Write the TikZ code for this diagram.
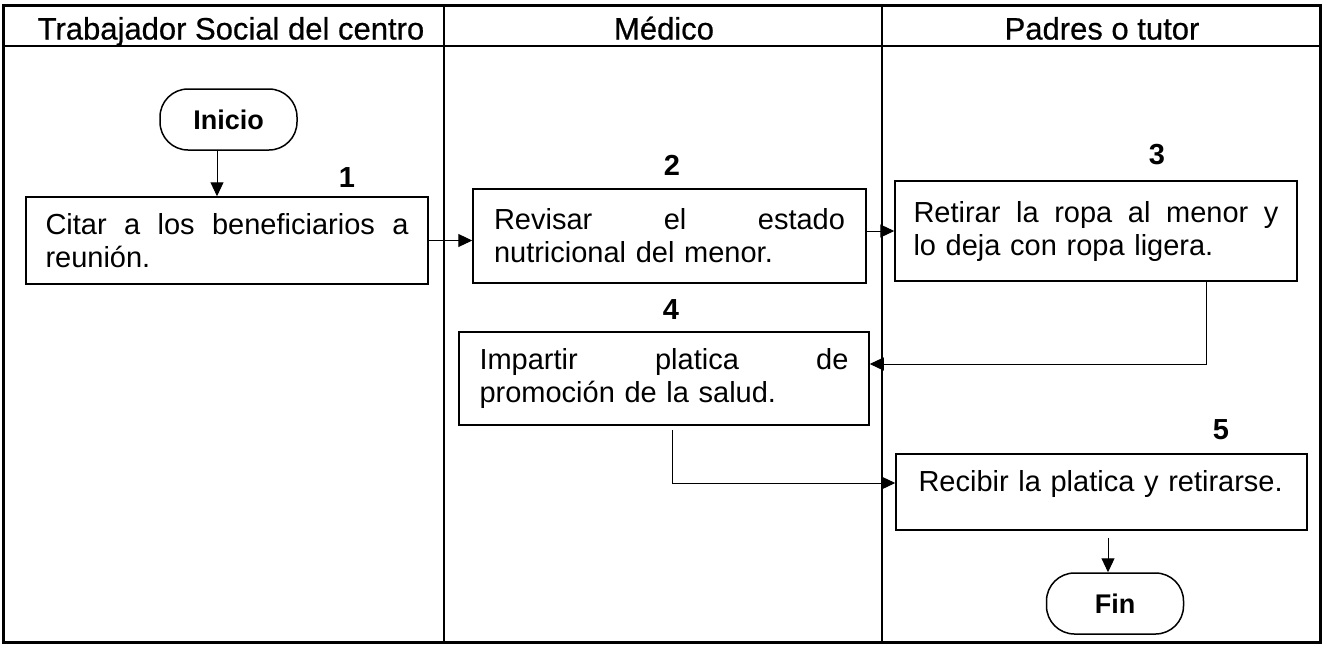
\documentclass[tikz,border=0pt]{standalone}
\usepackage{fontspec}
\setmainfont{Liberation Sans}
\newfontfamily\headfont[FakeBold=0.6]{Liberation Sans}
\usetikzlibrary{arrows.meta,calc}
\begin{document}
\begin{tikzpicture}[x=0.5pt,y=-0.5pt,
  box/.style={draw,line width=0.75pt,inner ysep=0pt,font=\fontsize{14.5}{16.5}\selectfont,align=left},
  term/.style={draw,line width=0.75pt,rounded corners=14pt,minimum width=68.5pt,minimum height=30.5pt,font=\fontsize{13.5}{16}\selectfont\bfseries,inner sep=0pt},
  num/.style={font=\fontsize{14.5}{16.5}\selectfont\bfseries,inner sep=0pt},
  head/.style={font=\headfont\fontsize{15.5}{17}\selectfont,anchor=base,inner sep=0pt},
  conn/.style={line width=0.5pt,-{Triangle[length=7pt,width=6.5pt]}},
  lane/.style={line width=1pt},
]
\useasboundingbox (0,0) rectangle (1322,644);
% swimlane frame
\draw[line width=1.5pt] (3,5) rectangle (1320,642);
\draw[lane] (3,46) -- (1320,46);
\draw[lane] (444,5) -- (444,642);
\draw[lane] (882,5) -- (882,642);
% headers
\node[head] (h1) at (231,39.5) {Trabajador Social del centro};
\node[head] (h2) at (664,39.5) {Médico};
\node[head] (h3) at (1102,39.5) {Padres o tutor};
% terminals
\node[term] (ini) at (228.5,119.5) {Inicio};
\node[term] (fin) at (1115,603.5) {Fin};
% process boxes
\node[box,minimum width=201pt,minimum height=43.5pt,text width=181.5pt,inner xsep=9.75pt] (b1) at (227,240.5)
  {Citar\hfill a\hfill los\hfill beneficiarios\hfill a\\reunión.};
\node[box,minimum width=196.5pt,minimum height=47pt,text width=175.5pt,inner xsep=10.5pt] (b2) at (669.5,236)
  {Revisar\hfill el\hfill estado\\nutricional del menor.};
\node[box,minimum width=201pt,minimum height=50pt,text width=182.5pt,inner xsep=9.25pt] (b3) at (1096,231)
  {Retirar\hfill la\hfill ropa\hfill al\hfill menor\hfill y\\lo deja con ropa ligera.};
\node[box,minimum width=205pt,minimum height=46.5pt,text width=184.5pt,inner xsep=10.25pt] (b4) at (664,378.5)
  {Impartir\hfill platica\hfill de\\promoción de la salud.};
\node[box,minimum width=205.5pt,minimum height=38pt,text width=183pt,inner xsep=11.25pt] (b5) at (1101.5,492)
  {\raisebox{4pt}[\height][\depth]{Recibir la platica y retirarse.}};
% step numbers
\node[num] (n1) at (347,178) {1};
\node[num] (n2) at (672,165) {2};
\node[num] (n3) at (1157,155) {3};
\node[num] (n4) at (671,310) {4};
\node[num] (n5) at (1221,430) {5};
% connectors
\coordinate (a1) at (217,0);
\coordinate (c3) at (1206,364);
\coordinate (c4) at (672,483);
\coordinate (c5) at (1108,0);
\draw[conn] (ini.south -| a1) -- (b1.north -| a1);
\draw[conn] (b1.east) -- (b1.east -| b2.west);
\draw[conn] (b3.west -| b2.east) -- (b3.west);
\draw[conn] (b3.south -| c3) |- (b4.east |- c3);
\draw[conn] ($(b4.south -| c4)+(0,4)$) |- (b5.west |- c4);
\draw[conn] ($(b5.south -| c5)+(0,7)$) -- (fin.north -| c5);
\end{tikzpicture}
\end{document}
